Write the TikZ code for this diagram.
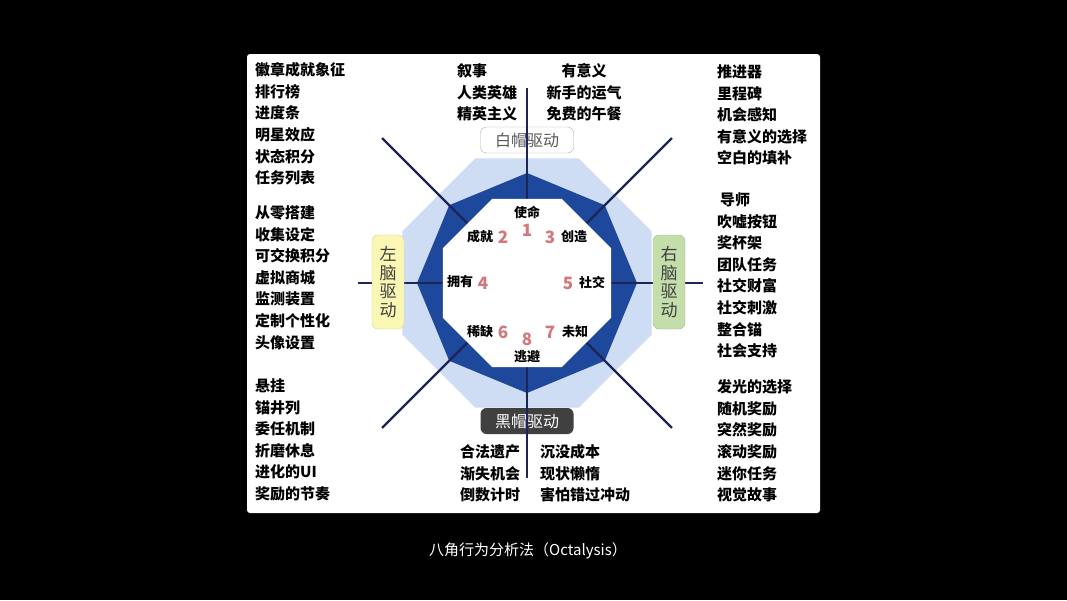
\documentclass[tikz,border=0pt]{standalone}
\usepackage{fontspec}
\newfontfamily\cjk{Noto Sans CJK SC}
\usepackage{xcolor}
\usepackage{tikz}

\definecolor{octdark}{RGB}{30,72,155}
\definecolor{octlight}{RGB}{206,221,244}
\definecolor{spokeblue}{RGB}{28,36,88}
\definecolor{numred}{RGB}{212,118,122}
\definecolor{yellowbox}{RGB}{250,246,180}
\definecolor{yellowline}{RGB}{215,210,150}
\definecolor{greenbox}{RGB}{195,222,170}
\definecolor{greenline}{RGB}{160,190,140}
\definecolor{hatgray}{RGB}{175,175,175}
\definecolor{hatdark}{RGB}{64,64,64}

\begin{document}
\begin{tikzpicture}[x=1pt,y=-1pt,
  spoke/.style={draw=spokeblue,line width=2.3pt},
  techlist/.style={inner sep=0pt,align=left,font=\cjk\bfseries\fontsize{15}{21.6}\selectfont},
  core/.style={inner sep=0pt,font=\cjk\bfseries\fontsize{13}{13}\selectfont},
  corenum/.style={inner sep=0pt,text=numred,font=\cjk\bfseries\fontsize{17}{17}\selectfont},
  sidebox/.style={rounded corners=6pt,minimum width=32pt,minimum height=94pt,inner sep=0pt,align=center,text=black!75,font=\cjk\fontsize{17}{18.5}\selectfont},
  hatbox/.style={rounded corners=6pt,minimum width=93pt,minimum height=26pt,inner sep=0pt,font=\cjk\fontsize{16}{16}\selectfont}]
  \fill[black] (0,0) rectangle (1067,600);
  \fill[white,rounded corners=3pt] (247,54) rectangle (820,513);

  \begin{scope}[shift={(527,283)},y=1pt]
    \coordinate (c) at (0,0);
    \fill[octlight] (22.5:135) -- (67.5:135) -- (112.5:135) -- (157.5:135) -- (202.5:135) -- (247.5:135) -- (292.5:135) -- (337.5:135) -- cycle;
    \fill[octdark] (0:110) -- (45:110) -- (90:110) -- (135:110) -- (180:110) -- (225:110) -- (270:110) -- (315:110) -- cycle;
    \coordinate (sN) at (90:195);
    \coordinate (sS) at (270:195);
    \coordinate (sW) at (180:169);
    \coordinate (sE) at (0:176);
    \coordinate (sNE) at (45:205);
    \coordinate (sNW) at (135:205);
    \coordinate (sSE) at (-45:205);
    \coordinate (sSW) at (-135:205);
  \end{scope}

  \node[hatbox,draw=hatgray,fill=white,text=black!65] (whitehat) at (527,140) {白帽驱动};
  \node[hatbox,fill=hatdark,text=white] (blackhat) at (527,421) {黑帽驱动};

  \draw[spoke] (c) -- (sN);
  \draw[spoke] (c) -- (sS);
  \draw[spoke] (c) -- (sW);
  \draw[spoke] (c) -- (sE);
  \draw[spoke] (c) -- (sNE);
  \draw[spoke] (c) -- (sNW);
  \draw[spoke] (c) -- (sSE);
  \draw[spoke] (c) -- (sSW);

  \begin{scope}[shift={(527,283)},y=1pt]
    \fill[white] (22.5:91) -- (67.5:91) -- (112.5:91) -- (157.5:91) -- (202.5:91) -- (247.5:91) -- (292.5:91) -- (337.5:91) -- cycle;
  \end{scope}

  \node[sidebox,draw=yellowline,fill=yellowbox] (leftbrain) at (388,282) {左\\脑\\驱\\动};
  \node[sidebox,draw=greenline,fill=greenbox] (rightbrain) at (669,282) {右\\脑\\驱\\动};

  \node[core] (meaning) at (527,212) {使命};
  \node[corenum] (n1) at (527,230) {1};
  \node[core] (accomp) at (480,237) {成就};
  \node[corenum] (n2) at (503,237) {2};
  \node[corenum] (n3) at (550,237) {3};
  \node[core] (empower) at (574,237) {创造};
  \node[core] (owner) at (460,282) {拥有};
  \node[corenum] (n4) at (483,283) {4};
  \node[corenum] (n5) at (568,283) {5};
  \node[core] (social) at (592,282) {社交};
  \node[core] (scarcity) at (480,332) {稀缺};
  \node[corenum] (n6) at (503,332) {6};
  \node[corenum] (n7) at (550,332) {7};
  \node[core] (unknown) at (575,332) {未知};
  \node[corenum] (n8) at (527,339) {8};
  \node[core] (avoid) at (527,357) {逃避};

  \node[techlist,anchor=north west] (listTL) at (255,62.5) {徽章成就象征\\排行榜\\进度条\\明星效应\\状态积分\\任务列表};
  \node[techlist,anchor=north west] (listML) at (255,205.5) {从零搭建\\收集设定\\可交换积分\\虚拟商城\\监测装置\\定制个性化\\头像设置};
  \node[techlist,anchor=north west] (listBL) at (255,378.5) {悬挂\\锚井列\\委任机制\\折磨休息\\进化的UI\\奖励的节奏};
  \node[techlist,anchor=north west] (listTM) at (457,63.5) {叙事\\人类英雄\\精英主义};
  \node[techlist,anchor=north,align=center] (listTM2) at (584,63.5) {有意义\\新手的运气\\免费的午餐};
  \node[techlist,anchor=north west] (listBM) at (460,444.5) {合法遗产\\渐失机会\\倒数计时};
  \node[techlist,anchor=north west] (listBM2) at (540,444.5) {沉没成本\\现状懒惰\\害怕错过冲动};
  \node[techlist,anchor=north west] (listTR) at (717,64.5) {推进器\\里程碑\\机会感知\\有意义的选择\\空白的填补};
  \node[techlist,anchor=north west] (listMR) at (717,192.5) {\hspace*{3pt}导师\\吹嘘按钮\\奖杯架\\团队任务\\社交财富\\社交刺激\\整合锚\\社会支持};
  \node[techlist,anchor=north west] (listBR) at (717,379.5) {发光的选择\\随机奖励\\突然奖励\\滚动奖励\\迷你任务\\视觉故事};

  \node[text=white,font=\cjk\fontsize{15}{15}\selectfont] (caption) at (528,551) {八角行为分析法（Octalysis）};
\end{tikzpicture}
\end{document}
